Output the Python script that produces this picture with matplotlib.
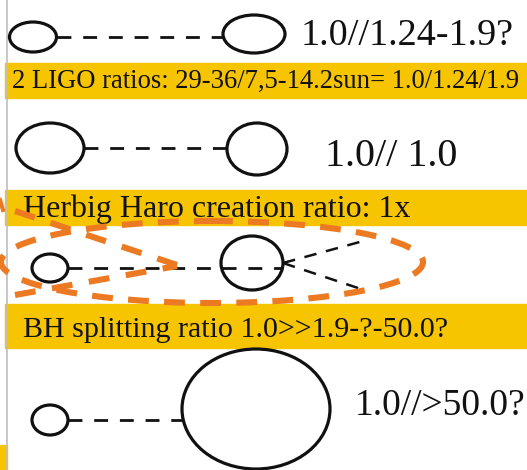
import matplotlib.pyplot as plt
from matplotlib.patches import Ellipse, Rectangle

plt.rcParams['font.family'] = ['Liberation Serif', 'DejaVu Serif']
plt.rcParams['lines.scale_dashes'] = False

# yellow caption bands: text, top, bottom, text x, baseline, size
band_texts = ['2 LIGO ratios: 29-36/7,5-14.2sun= 1.0/1.24/1.9',
              'Herbig Haro creation ratio: 1x',
              'BH splitting ratio 1.0>>1.9-?-50.0?']
band_tops = [63, 190, 304]
band_bottoms = [98, 225, 348]
band_text_x = [12, 23, 23]
band_baselines = [88, 217, 337]
band_sizes = [19.2, 23, 21.6]

# ratio rows: small ellipse (cx, cy, w, h), big ellipse, label
small_ell = [(33, 37, 47, 30), (50, 148, 68, 50), (50, 268, 36, 28), (50, 420, 36, 30)]
big_ell = [(254, 34, 62, 38), (257, 149, 60, 52), (252, 263, 62, 54), (256, 409, 148, 120)]
link_start = [57, 84, 68, 68]
link_end = [223, 227, 283, 182]
row_labels = ['1.0//1.24-1.9?', '1.0// 1.0', '', '1.0//>50.0?']
label_x = [301, 325, 0, 355]
label_base = [45, 166, 0, 415]
label_sizes = [27.5, 29, 0, 27]

# split branches of the HH row
branch_x = [283, 367]
branch_up = [263, 240]
branch_down = [263, 291]

# orange highlight (ellipse + converging arrow)
orange_ell = (212, 262, 422, 82)
arrow_top = [(15, 211), (177, 265)]
arrow_bot = [(15, 295), (177, 266)]

YELLOW = '#F6C500'
ORANGE = '#EC7A22'
INK = '#111111'

fig = plt.figure(figsize=(5.27, 4.70), dpi=100)
ax = fig.add_axes([0, 0, 1, 1])
ax.set_xlim(0, 527)
ax.set_ylim(470, 0)
ax.axis('off')

# bands
for top, bot in zip(band_tops, band_bottoms):
    ax.add_patch(Rectangle((5, top), 527, bot - top, color=YELLOW, zorder=1))
ax.add_patch(Rectangle((0, 445), 7, 30, color=YELLOW, zorder=1))
for txt, x, y, s in zip(band_texts, band_text_x, band_baselines, band_sizes):
    ax.text(x, y, txt, fontsize=s, color=INK, va='baseline', ha='left', zorder=3)

# left grey rule
ax.plot([7, 7], [0, 470], color='#bdbdbd', lw=1.2, zorder=2)

# ellipses and dashed links
for (cx, cy, w, h) in small_ell + big_ell:
    ax.add_patch(Ellipse((cx, cy), w, h, fill=False, ec=INK, lw=2.3, zorder=4))
for (cx, cy, w, h), x0, x1 in zip(small_ell, link_start, link_end):
    ax.plot([x0, x1], [cy, cy], color=INK, lw=2.0, dashes=(10, 8.5), zorder=4)

ax.plot(branch_x, branch_up, color=INK, lw=1.8, dashes=(9, 7), zorder=4)
ax.plot(branch_x, branch_down, color=INK, lw=1.8, dashes=(9, 7), zorder=4)

for lab, x, y, s in zip(row_labels, label_x, label_base, label_sizes):
    if lab:
        ax.text(x, y, lab, fontsize=s, color=INK, va='baseline', ha='left', zorder=3)

# orange highlight
cx, cy, w, h = orange_ell
ax.add_patch(Ellipse((cx, cy), w, h, fill=False, ec=ORANGE, lw=4.4,
                     linestyle=(0, (15, 11)), zorder=5))
for seg in (arrow_top, arrow_bot):
    ax.plot([seg[0][0], seg[1][0]], [seg[0][1], seg[1][1]], color=ORANGE,
            lw=4.4, dashes=(15, 12), zorder=5, solid_capstyle='butt')
ax.plot([0, 3], [200, 210], color=ORANGE, lw=3, zorder=5)

fig.savefig('out.png', dpi=100)
